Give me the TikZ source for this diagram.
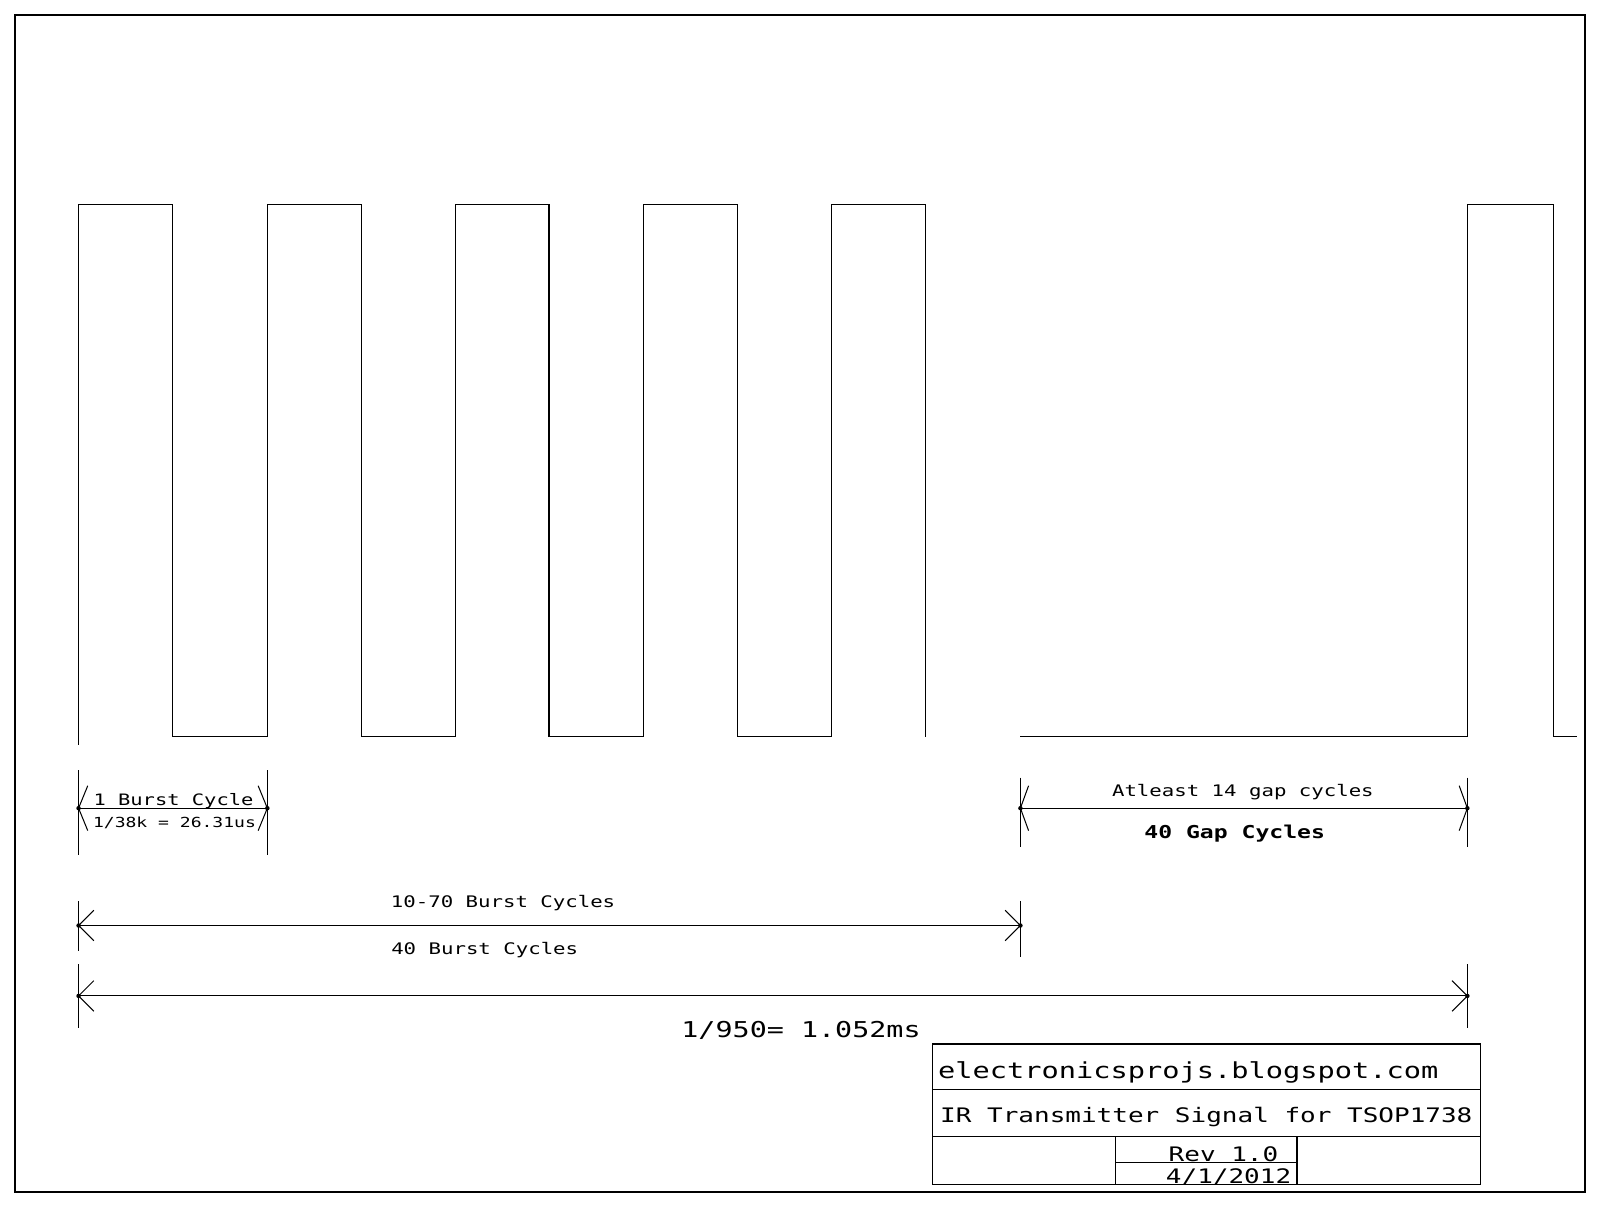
\documentclass[tikz,border=0pt]{standalone}
\usepackage{fontspec}
\newfontfamily\cadfont[FakeStretch=1.3]{DejaVu Sans Mono}
\newcommand\cadsize[1]{\cadfont\fontsize{#1}{#1}\selectfont}
\begin{document}
\begin{tikzpicture}[x=0.5pt,y=0.5pt,
  line/.style={line width=0.55pt, line join=miter},
  dimline/.style={line width=0.5pt},
  lbl/.style={inner sep=0pt, anchor=base},
  dotmark/.style={circle, fill=black, inner sep=0pt, minimum size=2.2pt}]
\useasboundingbox (0,0) rectangle (1568,-1184);
\fill[white] (0,0) rectangle (1568,-1184);
% frame
\draw[line width=0.8pt] (15,-15) rectangle (1553,-1168);

% signal
\draw[line] (77,-730) -- (77,-200) -- (169,-200) -- (169,-722) -- (262,-722)
  -- (262,-200) -- (354,-200) -- (354,-722) -- (446,-722)
  -- (446,-200) -- (538,-200) -- (538,-722) -- (631,-722)
  -- (631,-200) -- (723,-200) -- (723,-722) -- (815,-722)
  -- (815,-200) -- (907,-200) -- (907,-722);
\draw[line] (1000,-722) -- (1438,-722) -- (1438,-200) -- (1522,-200) -- (1522,-722) -- (1545,-722);

% ---- 1 burst cycle dimension
\coordinate (bcL) at (77,-792);
\coordinate (bcR) at (262,-792);
\draw[dimline] (77,-755) -- (77,-838);
\draw[dimline] (262,-755) -- (262,-838);
\draw[dimline] (bcL) -- (bcR);
\draw[dimline] (bcL) ++(9,22) -- (bcL) -- ++(9,-22);
\draw[dimline] (bcR) ++(-9,22) -- (bcR) -- ++(-9,-22);
\node[dotmark] at (bcL) {};
\node[dotmark] at (bcR) {};
\node[lbl] (t1) at (170,-789) {\cadsize{7.7pt}1 Burst Cycle};
\node[lbl] (t2) at (171,-811) {\cadsize{6.8pt}1/38k = 26.31us};

% ---- gap dimension
\coordinate (gL) at (1000,-792);
\coordinate (gR) at (1438,-792);
\draw[dimline] (1000,-762) -- (1000,-830);
\draw[dimline] (1438,-762) -- (1438,-830);
\draw[dimline] (gL) -- (gR);
\draw[dimline] (gL) ++(8,22) -- (gL) -- ++(8,-22);
\draw[dimline] (gR) ++(-8,22) -- (gR) -- ++(-8,-22);
\node[dotmark] at (gL) {};
\node[dotmark] at (gR) {};
\node[lbl] (t3) at (1218,-781) {\cadsize{7.8pt}Atleast 14 gap cycles};
\node[lbl] (t4) at (1210,-822) {\cadsize{8.7pt}\bfseries 40 Gap Cycles};

% ---- burst train dimension
\coordinate (bL) at (77,-907);
\coordinate (bR) at (1000,-907);
\draw[dimline] (77,-883) -- (77,-932);
\draw[dimline] (1000,-883) -- (1000,-938);
\draw[dimline] (bL) -- (bR);
\draw[dimline] (bL) ++(15,15) -- (bL) -- ++(15,-15);
\draw[dimline] (bR) ++(-15,15) -- (bR) -- ++(-15,-15);
\node[dotmark] at (bL) {};
\node[dotmark] at (bR) {};
\node[lbl] (t5) at (493,-889) {\cadsize{7.8pt}10-70 Burst Cycles};
\node[lbl] (t6) at (475,-935) {\cadsize{7.8pt}40 Burst Cycles};

% ---- period dimension
\coordinate (pL) at (77,-976);
\coordinate (pR) at (1438,-976);
\draw[dimline] (77,-945) -- (77,-1007);
\draw[dimline] (1438,-945) -- (1438,-1007);
\draw[dimline] (pL) -- (pR);
\draw[dimline] (pL) ++(15,15) -- (pL) -- ++(15,-15);
\draw[dimline] (pR) ++(-15,15) -- (pR) -- ++(-15,-15);
\node[dotmark] at (pL) {};
\node[dotmark] at (pR) {};
\node[lbl] (t7) at (785,-1017) {\cadsize{10.7pt}1/950= 1.052ms};

% ---- title block
\draw[line width=0.6pt] (914,-1023) rectangle (1451,-1161);
\draw[line width=0.6pt] (914,-1068) -- (1451,-1068);
\draw[line width=0.6pt] (914,-1114) -- (1451,-1114);
\draw[line width=0.6pt] (1093,-1114) -- (1093,-1161);
\draw[line width=0.6pt] (1271,-1114) -- (1271,-1161);
\draw[line width=0.6pt] (1093,-1139) -- (1271,-1139);
\node[lbl, anchor=base west] (t8) at (919,-1057) {\cadsize{10.8pt}electronicsprojs.blogspot.com};
\node[lbl, anchor=base west] (t9) at (921,-1100) {\cadsize{9.8pt}IR Transmitter Signal for TSOP1738};
\node[lbl] (t10) at (1199,-1138) {\cadsize{9.8pt}Rev 1.0};
\node[lbl] (t11) at (1204,-1160) {\cadsize{9.8pt}4/1/2012};
\end{tikzpicture}
\end{document}
